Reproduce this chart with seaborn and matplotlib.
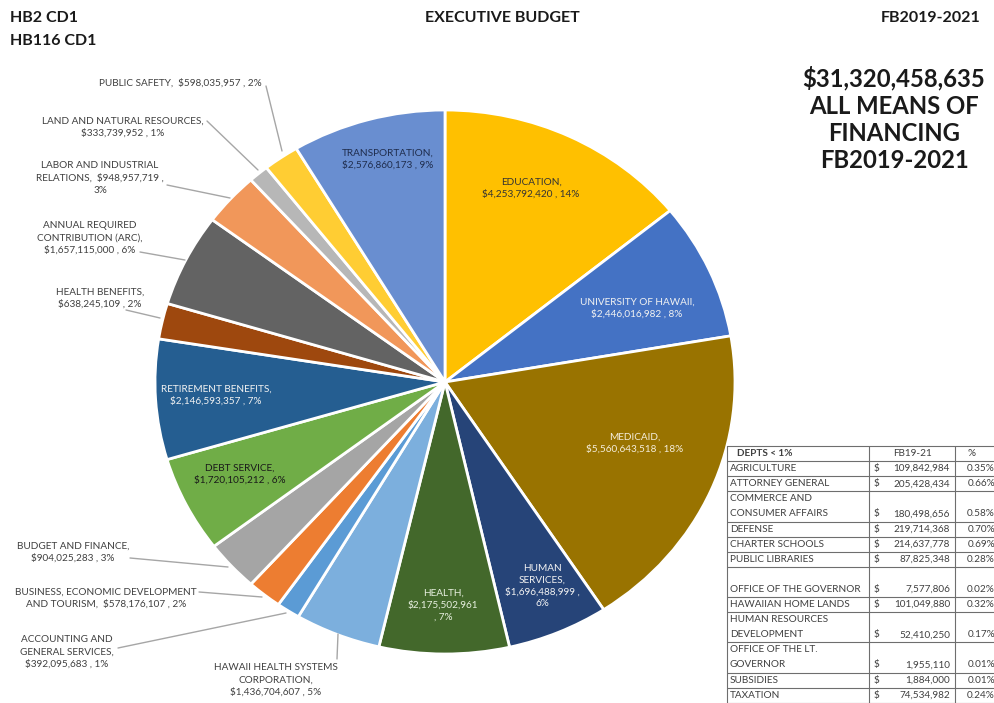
import matplotlib
matplotlib.use("Agg")
import matplotlib.pyplot as plt
import seaborn as sns

# pie slices, clockwise from 12 o'clock
departments = ["EDUCATION", "UNIVERSITY OF HAWAII", "MEDICAID", "HUMAN SERVICES", "HEALTH",
               "HAWAII HEALTH SYSTEMS CORPORATION", "ACCOUNTING AND GENERAL SERVICES",
               "BUSINESS, ECONOMIC DEVELOPMENT AND TOURISM", "BUDGET AND FINANCE", "DEBT SERVICE",
               "RETIREMENT BENEFITS", "HEALTH BENEFITS", "ANNUAL REQUIRED CONTRIBUTION (ARC)",
               "LABOR AND INDUSTRIAL RELATIONS", "LAND AND NATURAL RESOURCES", "PUBLIC SAFETY",
               "TRANSPORTATION"]
amounts = [4253792420, 2446016982, 5560643518, 1696488999, 2175502961, 1436704607, 392095683,
           578176107, 904025283, 1720105212, 2146593357, 638245109, 1657115000, 948957719,
           333739952, 598035957, 2576860173]
label_formats = ["EDUCATION,\n{v} , {p}", "UNIVERSITY OF HAWAII,\n{v} , {p}", "MEDICAID,\n{v} , {p}",
                 "HUMAN\nSERVICES,\n{v} ,\n{p}", "HEALTH,\n{v}\n, {p}",
                 "HAWAII HEALTH SYSTEMS\nCORPORATION,\n{v} , {p}",
                 "ACCOUNTING AND\nGENERAL SERVICES,\n{v} , {p}",
                 "BUSINESS, ECONOMIC DEVELOPMENT\nAND TOURISM,  {v} , {p}",
                 "BUDGET AND FINANCE,\n{v} , {p}", "DEBT SERVICE,\n{v} , {p}",
                 "RETIREMENT BENEFITS,\n{v} , {p}", "HEALTH BENEFITS,\n{v} , {p}",
                 "ANNUAL REQUIRED\nCONTRIBUTION (ARC),\n{v} , {p}",
                 "LABOR AND INDUSTRIAL\nRELATIONS,  {v} ,\n{p}",
                 "LAND AND NATURAL RESOURCES,\n{v} , {p}", "PUBLIC SAFETY,  {v} , {p}",
                 "TRANSPORTATION,\n{v} , {p}"]
colors = ["#FFC000", "#4472C4", "#997300", "#264478", "#43682B", "#7CAFDD", "#5B9BD5", "#ED7D31",
          "#A5A5A5", "#70AD47", "#255E91", "#9E480E", "#636363", "#F1975A", "#B7B7B7", "#FFCD33",
          "#698ED0"]

# departments under 1% (table)
small_depts = ["AGRICULTURE", "ATTORNEY GENERAL", "COMMERCE AND\nCONSUMER AFFAIRS", "DEFENSE",
               "CHARTER SCHOOLS", "PUBLIC LIBRARIES", "\nOFFICE OF THE GOVERNOR", "HAWAIIAN HOME LANDS",
               "HUMAN RESOURCES\nDEVELOPMENT", "OFFICE OF THE LT.\nGOVERNOR", "SUBSIDIES", "TAXATION"]
small_amounts = [109842984, 205428434, 180498656, 219714368, 214637778, 87825348, 7577806,
                 101049880, 52410250, 1955110, 1884000, 74534982]
total_all = 31320458635

# label placement in pixels: (x, y, color, leader line start, leader line end)
label_pos = [
    (531, 188, "#333333", None, None),
    (637, 308, "#F2F2F2", None, None),
    (635, 443, "#F5EEDC", None, None),
    (542, 586, "#F2F2F2", None, None),
    (443, 605, "#E8F0E0", None, None),
    (276, 680, "#404040", (337, 659), (338, 634)),
    (67, 652, "#404040", (118, 648), (286, 613)),
    (106, 598, "#404040", (199, 592), (262, 597)),
    (73, 552, "#404040", (130, 558), (228, 567)),
    (240, 474, "#1A1A1A", None, None),
    (216, 395, "#F2F2F2", None, None),
    (100, 298, "#404040", (126, 310), (160, 318)),
    (90, 238, "#404040", (140, 252), (185, 260)),
    (100, 178, "#404040", (167, 185), (230, 198)),
    (123, 127, "#404040", (207, 121), (258, 170)),
    (180, 83, "#404040", (266, 86), (282, 151)),
    (388, 159, "#1F2D4D", None, None),
]

sns.set_theme(style="white")
plt.rcParams["font.family"] = ["Lato", "DejaVu Sans"]

fig = plt.figure(figsize=(9.95, 7.03), dpi=100)
fig.patch.set_facecolor("white")

# pie, slightly wider than tall like the original
cx, cy, rx, ry = 445, 382, 290, 272
pie_ax = fig.add_axes([(cx - rx) / 995, (703 - cy - ry) / 703, 2 * rx / 995, 2 * ry / 703])
pie_ax.pie(amounts, colors=colors, startangle=90, counterclock=False, radius=1,
           wedgeprops=dict(edgecolor="white", linewidth=2))
pie_ax.set_xlim(-1, 1)
pie_ax.set_ylim(-1, 1)
pie_ax.set_aspect("auto")
pie_ax.axis("off")

# overlay in pixel coordinates for text
ov = fig.add_axes([0, 0, 1, 1])
ov.set_xlim(0, 995)
ov.set_ylim(703, 0)
ov.axis("off")
ov.patch.set_alpha(0)

pie_total = sum(amounts)
for fmt, amt, (x, y, c, p0, p1) in zip(label_formats, amounts, label_pos):
    txt = fmt.format(v=f"${amt:,}", p=f"{round(amt / pie_total * 100)}%")
    ov.text(x, y, txt, ha="center", va="center", fontsize=7.2, color=c, linespacing=1.4)
    if p0 is not None:
        ov.plot([p0[0], p1[0]], [p0[1], p1[1]], color="#A6A6A6", lw=1)

# headers
hdr = dict(fontsize=11.5, fontweight="bold", color="#1A1A1A", va="center")
ov.text(10, 18, "HB2 CD1", **hdr)
ov.text(10, 41, "HB116 CD1", **hdr)
ov.text(502, 18, "EXECUTIVE BUDGET", ha="center", **hdr)
ov.text(980, 18, "FB2019-2021", ha="right", **hdr)
ov.text(894, 119, f"${total_all:,}\nALL MEANS OF\nFINANCING\nFB2019-2021", fontsize=17.2,
        fontweight="bold", color="#1A1A1A", ha="center", va="center", linespacing=1.22)

# table of small departments
row_h = 15.1
top = 446
line_c = "#6E6E6E"
tc = "#404040"
ov.plot([727, 995], [top, top], color=line_c, lw=0.8)
ov.text(765, top + row_h / 2, "DEPTS < 1%", fontsize=7.2, fontweight="bold", color=tc,
        ha="center", va="center")
ov.text(912, top + row_h / 2, "FB19-21", fontsize=7.2, color=tc, ha="center", va="center")
ov.text(972, top + row_h / 2, "%", fontsize=7.2, color=tc, ha="center", va="center")
y = top + row_h
ov.plot([727, 995], [y, y], color=line_c, lw=0.8)
for name, amt in zip(small_depts, small_amounts):
    lines = name.split("\n")
    for i, ln in enumerate(lines):
        ov.text(730, y + row_h * (i + 0.5), ln, fontsize=7.2, color=tc, va="center")
    yl = y + row_h * (len(lines) - 0.5)
    ov.text(874, yl, "$", fontsize=7.2, color=tc, va="center")
    ov.text(950, yl, f"{amt:,}", fontsize=7.2, color=tc, va="center", ha="right")
    ov.text(995, yl, f"{amt / total_all * 100:.2f}%", fontsize=7.2, color=tc, va="center", ha="right")
    y += row_h * len(lines)
    ov.plot([727, 995], [y, y], color=line_c, lw=0.8)
for xv in [727, 869, 955]:
    ov.plot([xv, xv], [top, 710], color=line_c, lw=0.8)

fig.savefig("out.png", dpi=100)
